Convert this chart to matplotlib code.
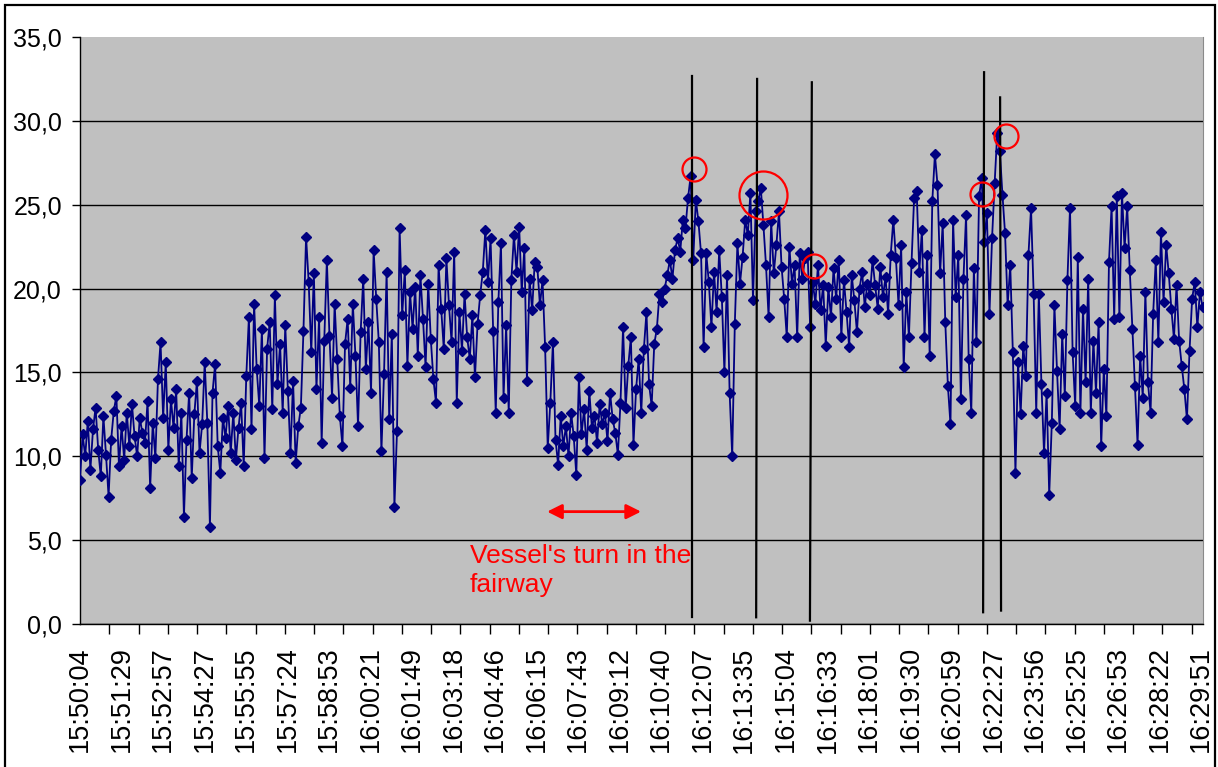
import matplotlib.pyplot as plt
import numpy as np
from matplotlib.patches import Rectangle
from matplotlib.ticker import FuncFormatter
from matplotlib.transforms import Bbox, TransformedBbox

# category axis: one label every 88 samples, tick marks every 62 samples
time_labels = [
    "15:50:04", "15:51:29", "15:52:57", "15:54:27", "15:55:55", "15:57:24",
    "15:58:53", "16:00:21", "16:01:49", "16:03:18", "16:04:46", "16:06:15",
    "16:07:43", "16:09:12", "16:10:40", "16:12:07", "16:13:35", "16:15:04",
    "16:16:33", "16:18:01", "16:19:30", "16:20:59", "16:22:27", "16:23:56",
    "16:25:25", "16:26:53", "16:28:22", "16:29:51",
]
label_step = 88
tick_step = 62
n_samples = 2380

# readings, one row per label interval
values = [
    8.6, 11.3, 10.0, 12.1, 9.2, 11.6, 12.9, 10.4, 8.8, 12.4, 10.1, 7.6, 11.0, 12.7, 13.6, 9.4,
    11.8, 9.8, 12.6, 10.6, 13.1, 11.2, 10.0, 12.3, 11.4, 10.8, 13.3, 8.1, 12.0, 9.9, 14.6, 16.8,
    12.3, 15.6, 10.4, 13.4, 11.7, 14.0, 9.4, 12.6, 6.4, 11.0, 13.8, 8.7, 12.5, 14.5, 10.2, 11.9,
    15.6, 12.0, 5.8, 13.8, 15.5, 10.6, 9.0, 12.3, 11.1, 13.0, 10.2, 12.6, 9.8, 11.7, 13.2, 9.4,
    14.8, 18.3, 11.6, 19.1, 15.2, 13.0, 17.6, 9.9, 16.4, 18.0, 12.8, 19.6, 14.3, 16.7, 12.6, 17.8,
    13.9, 10.2, 14.5, 9.6, 11.8, 12.9, 17.5, 23.1, 20.4, 16.2, 20.9, 14.0, 18.3, 10.8, 16.9, 21.7,
    17.2, 13.5, 19.1, 15.8, 12.4, 10.6, 16.7, 18.2, 14.1, 19.1, 16.0, 11.8, 17.4, 20.6, 15.2, 18.0,
    13.8, 22.3, 19.4, 16.8, 10.3, 14.9, 21.0, 12.2, 17.3, 7.0, 11.5, 23.6, 18.4, 21.1, 15.4, 19.8,
    17.6, 20.1, 16.0, 20.8, 18.2, 15.3, 20.3, 17.0, 14.6, 13.2, 21.4, 18.8, 16.4, 21.8, 19.0, 16.8,
    22.2, 13.2, 18.6, 16.3, 19.7, 17.1, 15.8, 18.4, 14.7, 17.9, 19.6, 21.0, 23.5, 20.4, 23.0, 17.5,
    12.6, 19.2, 22.7, 13.5, 17.8, 12.6, 20.5, 23.2, 21.0, 23.7, 19.8, 22.4, 14.5, 20.6, 18.7, 21.6,
    21.3, 19.0, 20.5, 16.5, 10.5, 13.2, 16.8, 11.0, 9.5, 12.4, 10.6, 11.8, 10.0, 12.6, 11.2, 8.9,
    14.7, 11.3, 12.8, 10.4, 13.9, 11.7, 12.4, 10.8, 13.1, 11.9, 12.6, 10.9, 13.8, 12.2, 11.4, 10.1,
    13.2, 17.7, 12.9, 15.4, 17.1, 10.7, 14.0, 15.8, 12.6, 16.4, 18.6, 14.3, 13.0, 16.7, 17.6, 19.7,
    19.2, 20.0, 20.8, 21.7, 20.6, 22.3, 23.0, 22.2, 24.1, 23.6, 25.4, 26.7, 21.7, 25.3, 24.0, 22.1,
    16.5, 22.1, 20.4, 17.7, 21.0, 18.6, 22.3, 19.5, 15.0, 20.8, 13.8, 10.0, 17.9, 22.7, 20.3, 21.9,
    24.1, 23.2, 25.7, 19.3, 24.6, 25.2, 26.0, 23.8, 21.4, 18.3, 24.0, 20.9, 22.6, 24.6, 21.3, 19.4,
    17.1, 22.5, 20.3, 21.4, 17.1, 22.1, 20.6, 21.8, 22.2, 17.7, 20.4, 19.1, 21.4, 18.7, 20.2, 16.6,
    20.1, 18.3, 21.2, 19.4, 21.7, 17.1, 20.5, 18.6, 16.5, 20.8, 19.3, 17.4, 20.0, 21.0, 18.9, 20.3,
    19.6, 21.7, 20.2, 18.8, 21.3, 19.5, 20.7, 18.5, 22.0, 24.1, 21.8, 19.0, 22.6, 15.3, 19.8, 17.1,
    21.5, 25.4, 25.8, 21.0, 23.5, 17.1, 22.0, 16.0, 25.2, 28.0, 26.2, 20.9, 23.9, 18.0, 14.2, 11.9,
    24.1, 19.5, 22.0, 13.4, 20.6, 24.4, 15.8, 12.6, 21.2, 16.8, 25.5, 26.6, 22.8, 24.5, 18.5, 23.0,
    26.3, 29.3, 28.2, 25.6, 23.3, 19.0, 21.4, 16.2, 9.0, 15.6, 12.5, 16.6, 14.8, 22.0, 24.8, 19.7,
    12.6, 19.7, 14.3, 10.2, 13.8, 7.7, 12.0, 19.0, 15.1, 11.6, 17.3, 13.6, 20.5, 24.8, 16.2, 13.0,
    21.9, 12.6, 18.8, 14.4, 20.6, 12.6, 16.9, 13.8, 18.0, 10.6, 15.2, 12.4, 21.6, 24.9, 18.2, 25.5,
    18.3, 25.7, 22.4, 24.9, 21.1, 17.6, 14.2, 10.7, 16.0, 13.5, 19.8, 14.4, 12.6, 18.5, 21.7, 16.8,
    23.4, 19.2, 22.6, 20.9, 18.8, 17.0, 20.2, 16.9, 15.4, 14.0, 12.2, 16.3, 19.4, 20.4, 17.7, 19.8,
    18.9,
]

# hand-drawn annotations (sample index, value)
event_lines = [
    ((1297, 1297), (0.4, 32.7)),
    ((1433, 1435), (0.4, 32.5)),
    ((1547, 1551), (0.2, 32.3)),
    ((1914, 1916), (0.7, 32.9)),
    ((1952, 1950), (0.8, 31.4)),
]
circle_x = [1301, 1448, 1556, 1912, 1963]
circle_y = [27.1, 25.6, 21.35, 25.65, 29.1]
circle_radius_px = [12, 24, 12, 12, 12]
arrow_from, arrow_to = (990, 6.7), (1189, 6.7)
note_text = "Vessel's turn in the\nfairway"

plt.rcParams["font.family"] = ["Liberation Sans", "DejaVu Sans"]

fig = plt.figure(figsize=(12.18, 7.67), dpi=100)
ax = fig.add_axes([80 / 1218, 1 - 624 / 767, (1203 - 80) / 1218, (624 - 37) / 767])
ax.set_facecolor("#c0c0c0")

x = np.linspace(0, n_samples - 1, len(values))
ax.plot(x, values, color="#000080", lw=1.3, marker="D", ms=5.5,
        mfc="#000080", mec="#000080", zorder=3)

for xs, ys in event_lines:
    ax.plot(xs, ys, color="black", lw=1.6, zorder=4)

for cx, cy, r in zip(circle_x, circle_y, circle_radius_px):
    ax.plot(cx, cy, "o", ms=2 * r * 0.72, mfc="none", mec="red", mew=1.6, zorder=5)

ax.annotate("", xy=arrow_to, xytext=arrow_from,
            arrowprops=dict(arrowstyle="<|-|>", color="red", lw=2,
                            mutation_scale=22, shrinkA=0, shrinkB=0), zorder=5)

note = ax.text(826, 4.75, note_text, color="red", fontsize=19, ha="left", va="top",
               linespacing=1.25, zorder=5)
note.set_clip_box(TransformedBbox(Bbox([[815, 1.55], [1297, 8]]), ax.transData))
note.set_clip_on(True)

ax.set_xlim(0, n_samples)
ax.set_ylim(0, 35)
ax.set_yticks(np.arange(0, 36, 5))
ax.yaxis.set_major_formatter(FuncFormatter(lambda v, _: f"{v:.1f}".replace(".", ",")))
ax.set_xticks(np.arange(len(time_labels)) * label_step)
ax.set_xticklabels(time_labels, rotation=90, ha="center", va="top")
ax.set_xticks(np.arange(0, n_samples, tick_step), minor=True)

ax.tick_params(axis="x", which="major", length=0, pad=16, labelsize=19.5)
ax.tick_params(axis="x", which="minor", length=7, width=1, color="black")
ax.tick_params(axis="y", length=6, width=1, pad=7, labelsize=18)

ax.yaxis.grid(True, color="black", lw=1)
ax.get_ygridlines()[-1].set_visible(False)
ax.set_axisbelow(True)

ax.spines["top"].set_visible(False)
ax.spines["right"].set_color("#8a8a8a")
for side in ("left", "bottom"):
    ax.spines[side].set_color("black")
    ax.spines[side].set_linewidth(1)

# outer frame of the pasted chart (bottom edge cut off)
fig.add_artist(Rectangle((5 / 1218, -0.1), 1210 / 1218, 1.1 - 5 / 767,
                         transform=fig.transFigure, fill=False, ec="black", lw=1.6))

fig.savefig("out.png", dpi=100)
